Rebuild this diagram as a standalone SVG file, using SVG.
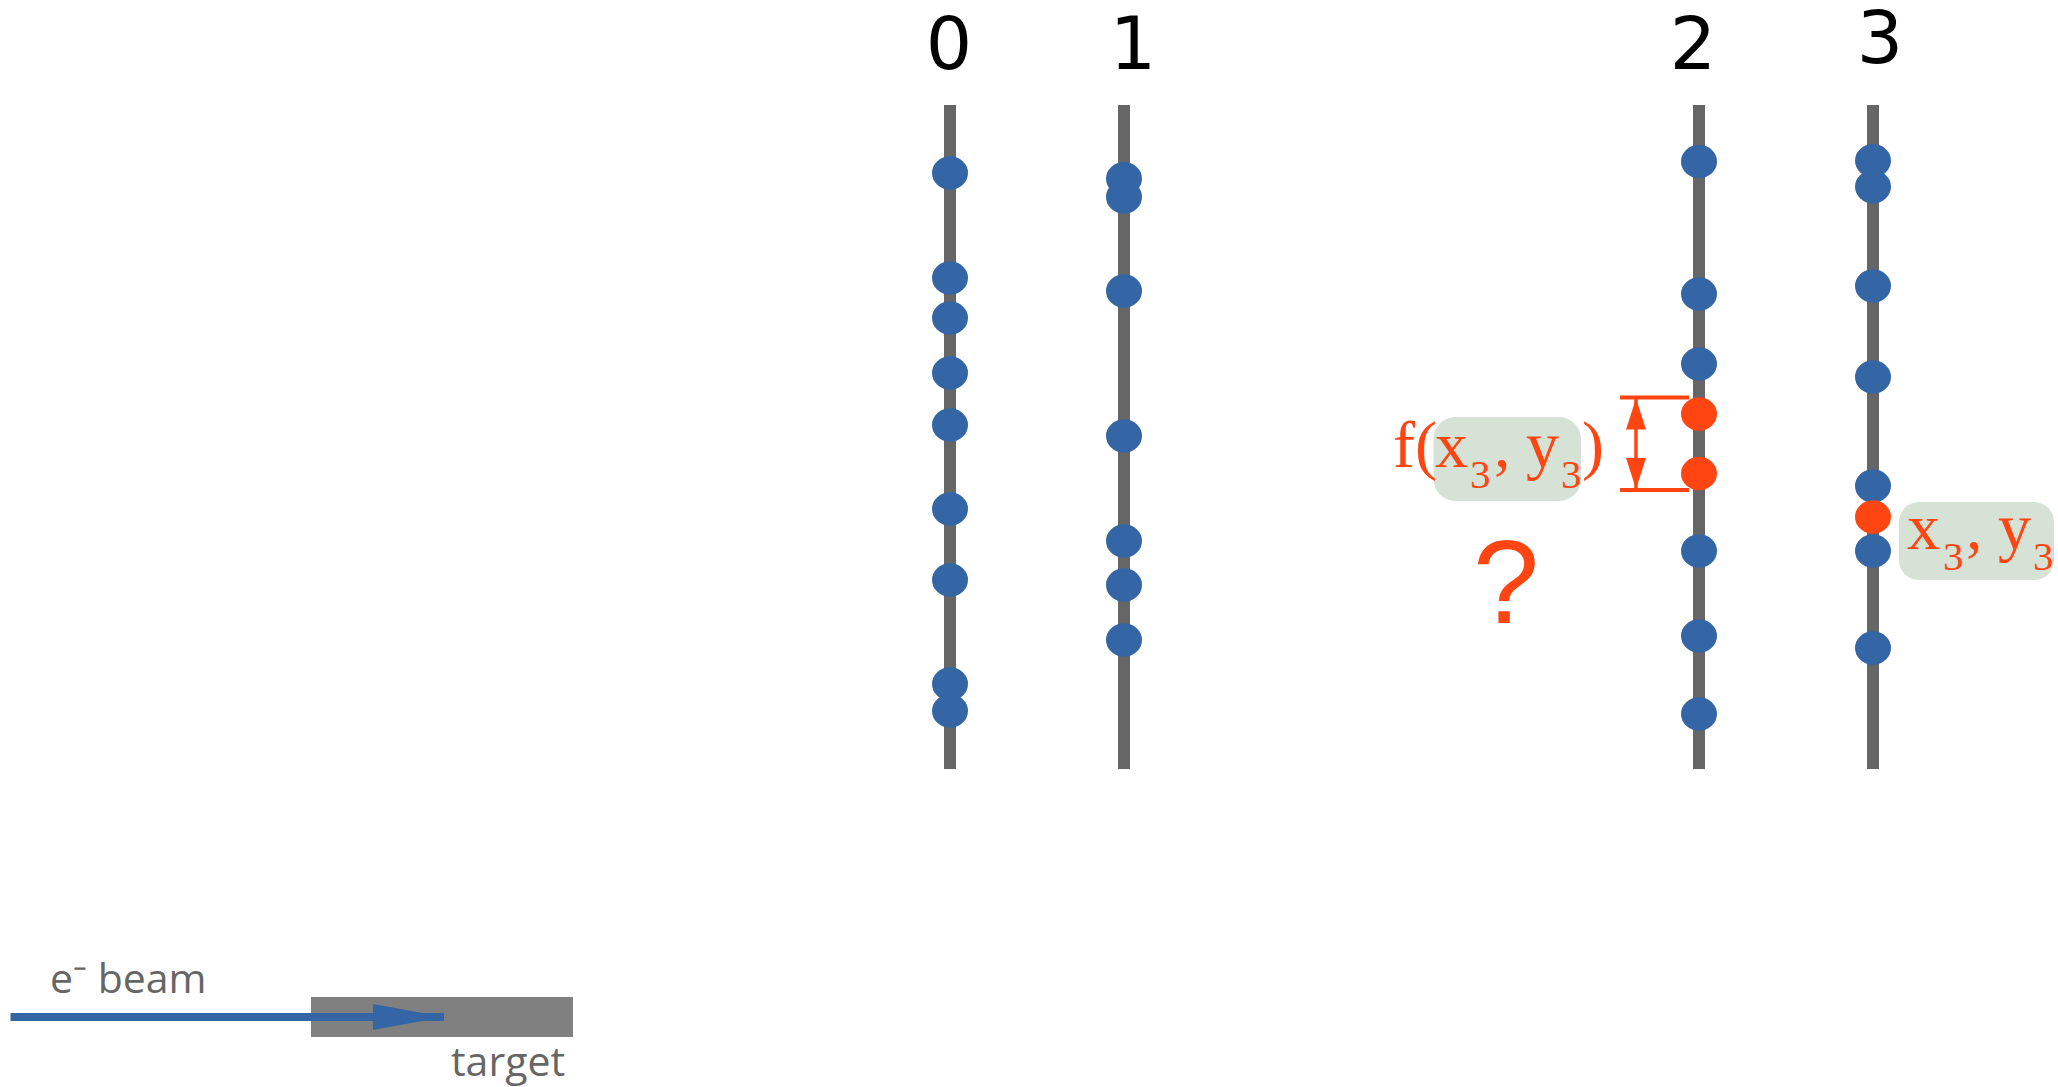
<svg xmlns="http://www.w3.org/2000/svg" width="2058" height="1087" viewBox="0 0 2058 1087">
<style>
.wire{fill:#666666}
.hit{fill:#3465a4}
.sel{fill:#ff4511}
.num{font-family:"DejaVu Sans",sans-serif;font-size:73px;fill:#000;text-anchor:middle}
.cap{font-family:"Open Sans",sans-serif;font-size:41px;fill:#666666}
.math{font-family:"Liberation Serif",serif;font-size:66px;fill:#ff4511}
.sub{font-size:41px}
.box{fill:#d5e2d5}
.tick{stroke:#ff4511;stroke-width:4;fill:none}
</style>
<defs>
<marker id="ah" markerUnits="userSpaceOnUse" markerWidth="32" markerHeight="22" refX="31" refY="11" orient="auto-start-reverse"><path d="M0 1 L31 11 L0 21 Z" fill="#ff4511"/></marker>
<marker id="bh" markerUnits="userSpaceOnUse" markerWidth="72" markerHeight="28" refX="71" refY="14" orient="auto"><path d="M0 1 L71 14 L0 27 Z" fill="#3465a4"/></marker>
</defs>
<rect width="2058" height="1087" fill="#fff"/>
<g id="target"><rect x="311" y="997" width="262" height="40" fill="#808080"/><text class="cap" x="451" y="1076">target</text></g>
<g id="beam-label"><text class="cap" x="50" y="993">e⁻ beam</text></g>
<g id="layer-0">
<rect class="wire" x="944" y="105" width="12" height="664"/>
<text class="num" x="949" y="69">0</text>
<ellipse class="hit" cx="950" cy="173" rx="18" ry="16.7"/><ellipse class="hit" cx="950" cy="278" rx="18" ry="16.7"/><ellipse class="hit" cx="950" cy="318" rx="18" ry="16.7"/><ellipse class="hit" cx="950" cy="373" rx="18" ry="16.7"/><ellipse class="hit" cx="950" cy="425" rx="18" ry="16.7"/><ellipse class="hit" cx="950" cy="509" rx="18" ry="16.7"/><ellipse class="hit" cx="950" cy="580" rx="18" ry="16.7"/><ellipse class="hit" cx="950" cy="684" rx="18" ry="16.7"/><ellipse class="hit" cx="950" cy="711" rx="18" ry="16.7"/>
</g>
<g id="layer-1">
<rect class="wire" x="1118" y="105" width="12" height="664"/>
<text class="num" x="1133" y="69">1</text>
<ellipse class="hit" cx="1124" cy="178.7" rx="18" ry="16.7"/><ellipse class="hit" cx="1124" cy="197" rx="18" ry="16.7"/><ellipse class="hit" cx="1124" cy="291" rx="18" ry="16.7"/><ellipse class="hit" cx="1124" cy="436" rx="18" ry="16.7"/><ellipse class="hit" cx="1124" cy="541" rx="18" ry="16.7"/><ellipse class="hit" cx="1124" cy="585" rx="18" ry="16.7"/><ellipse class="hit" cx="1124" cy="640" rx="18" ry="16.7"/>
</g>
<g id="layer-2">
<rect class="wire" x="1693" y="105" width="12" height="664"/>
<text class="num" x="1693" y="69">2</text>
<ellipse class="hit" cx="1699" cy="161.5" rx="18" ry="16.7"/><ellipse class="hit" cx="1699" cy="294" rx="18" ry="16.7"/><ellipse class="hit" cx="1699" cy="364" rx="18" ry="16.7"/><ellipse class="sel" cx="1699" cy="414" rx="18" ry="16.7"/><ellipse class="sel" cx="1699" cy="473.5" rx="18" ry="16.7"/><ellipse class="hit" cx="1699" cy="551" rx="18" ry="16.7"/><ellipse class="hit" cx="1699" cy="636" rx="18" ry="16.7"/><ellipse class="hit" cx="1699" cy="714" rx="18" ry="16.7"/>
</g>
<g id="layer-3">
<rect class="wire" x="1867" y="105" width="12" height="664"/>
<text class="num" x="1880" y="63">3</text>
<ellipse class="hit" cx="1873" cy="160.7" rx="18" ry="16.7"/><ellipse class="hit" cx="1873" cy="186.7" rx="18" ry="16.7"/><ellipse class="hit" cx="1873" cy="286" rx="18" ry="16.7"/><ellipse class="hit" cx="1873" cy="377" rx="18" ry="16.7"/><ellipse class="hit" cx="1873" cy="486" rx="18" ry="16.7"/><ellipse class="hit" cx="1873" cy="551" rx="18" ry="16.7"/><ellipse class="sel" cx="1873" cy="517" rx="18" ry="16.7"/><ellipse class="hit" cx="1873" cy="648" rx="18" ry="16.7"/>
</g>
<g id="function-label">
<rect class="box" x="1433.5" y="417" width="147.5" height="84" rx="22"/>
<text class="math" y="467"><tspan x="1393">f(</tspan><tspan x="1435">x</tspan><tspan x="1470" y="488" class="sub">3</tspan><tspan x="1494" y="467">,</tspan><tspan x="1526">y</tspan><tspan x="1561" y="488" class="sub">3</tspan><tspan x="1582" y="467">)</tspan></text>
<text x="1506" y="623" font-family="Liberation Sans, sans-serif" font-size="119" fill="#ff4511" text-anchor="middle">?</text>
</g>
<g id="coordinate-label">
<rect class="box" x="1899" y="502" width="155" height="78" rx="20"/>
<text class="math" y="549"><tspan x="1907">x</tspan><tspan x="1943" y="570" class="sub">3</tspan><tspan x="1966" y="549">,</tspan><tspan x="1998">y</tspan><tspan x="2033" y="570" class="sub">3</tspan></text>
</g>
<g id="connectors">
<path d="M10.5 1017 H444" stroke="#3465a4" stroke-width="8" fill="none" marker-end="url(#bh)"/>
<path class="tick" d="M1620 397.5 H1689 M1620 490 H1689"/>
<path d="M1636 398.5 V489" stroke="#ff4511" stroke-width="3.5" fill="none" marker-start="url(#ah)" marker-end="url(#ah)"/>
</g>
</svg>
